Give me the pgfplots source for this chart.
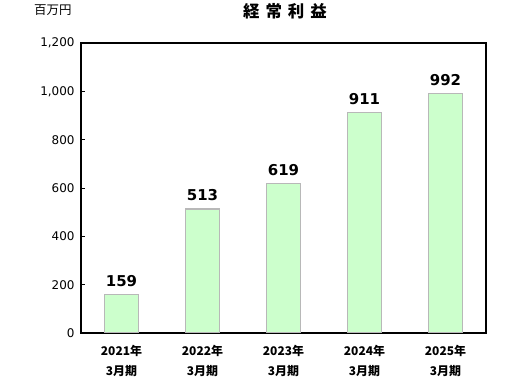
\documentclass[border=0pt]{standalone}
\usepackage{pgfplots}
\pgfplotsset{compat=1.18}
\usepackage{fontspec}
\setmainfont{DejaVu Sans}
\newfontfamily\jp{Noto Sans CJK JP}
\definecolor{barfill}{HTML}{CCFFCC}
\definecolor{baredge}{HTML}{B8B8B8}
\begin{document}
\begin{tikzpicture}
\useasboundingbox (0,0) rectangle (531bp,380bp);
\node[font=\jp\bfseries\fontsize{16.5}{18}\selectfont, anchor=center] at (285bp,369bp) {経\hspace{6bp}常\hspace{6bp}利\hspace{6bp}益};
\node[font=\jp\fontsize{12.5}{14}\selectfont, anchor=west, inner sep=0pt] at (34bp,370bp) {百万円};
\begin{axis}[
  at={(81bp,47bp)}, anchor=south west,
  scale only axis, width=405bp, height=290bp,
  xmin=-0.5, xmax=4.5, ymin=0, ymax=1200,
  ytick={0,200,...,1200},
  xtick={0,1,2,3,4},
  xticklabels={{2021年\\[6bp]3月期},{2022年\\[6bp]3月期},{2023年\\[6bp]3月期},{2024年\\[6bp]3月期},{2025年\\[6bp]3月期}},
  xticklabel style={align=center, font=\jp\bfseries\fontsize{12}{14}\selectfont, yshift=-9bp},
  major x tick style={draw=none},
  extra x ticks={0.5,1.5,2.5,3.5},
  extra x tick labels={},
  extra x tick style={major tick style={draw=black}, tick pos=bottom},
  ytick pos=left,
  tick align=inside,
  major tick length=4bp,
  axis line style={line width=1.3pt},
  tick style={black, line width=0.8pt},
  /pgf/number format/assume math mode=true,
  /pgf/number format/1000 sep={,},
  yticklabel style={font=\fontsize{12}{14}\selectfont, xshift=-3bp},
  nodes near coords,
  nodes near coords style={font=\bfseries\fontsize{15}{17}\selectfont, anchor=south, yshift=4bp},
  point meta=explicit symbolic,
]
\addplot[ybar, bar width=34bp, fill=barfill, draw=baredge, line width=1.3pt]
  coordinates {(0,159)[159] (1,513)[513] (2,619)[619] (3,911)[911] (4,992)[992]};
\end{axis}
\end{tikzpicture}
\end{document}
